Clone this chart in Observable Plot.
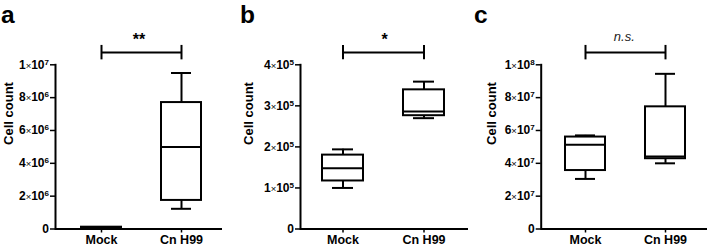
<!DOCTYPE html>
<html><head><meta charset="utf-8">
<script src="https://cdn.jsdelivr.net/npm/d3@7"></script>
<script src="https://cdn.jsdelivr.net/npm/@observablehq/plot@0.6"></script>
<style>
body{margin:0;background:#fff;}
#wrap{position:relative;width:709px;height:247px;overflow:hidden;font-family:"Liberation Sans",Arial,sans-serif;}
#wrap svg{position:absolute;top:0;}
</style></head><body><div id="wrap"></div>
<script>
const groups = ["Mock", "Cn H99"];
// five-number summaries: [min, q1, median, q3, max]
const mockA = [0.08e6, 0.09e6, 0.10e6, 0.11e6, 0.12e6];
const h99A  = [1.23e6, 1.74e6, 5.0e6, 7.7e6, 9.5e6];
const mockB = [1.0e5, 1.17e5, 1.48e5, 1.8e5, 1.94e5];
const h99B  = [2.7e5, 2.76e5, 2.86e5, 3.39e5, 3.59e5];
const mockC = [3.05e7, 3.56e7, 5.13e7, 5.6e7, 5.7e7];
const h99C  = [4.0e7, 4.28e7, 4.42e7, 7.44e7, 9.45e7];
const yTicksA = [0, 2e6, 4e6, 6e6, 8e6, 1e7];
const yTicksB = [0, 1e5, 2e5, 3e5, 4e5];
const yTicksC = [0, 2e7, 4e7, 6e7, 8e7, 1e8];
const panelLetters = ["a", "b", "c"];
const sigLabels = ["**", "*", "n.s."];
const yLabel = "Cell count";

const FONT = '"Liberation Sans", Arial, Helvetica, sans-serif';

function fmt(v) {
  if (v === 0) return "0";
  const e = Math.floor(Math.log10(v) + 1e-9);
  const m = Math.round(v / Math.pow(10, e));
  return m + "×10^" + e;
}

function panel(cfg) {
  const rows = groups.map((g, i) => {
    const s = i ? cfg.h99 : cfg.mock;
    return {g, min: s[0], q1: s[1], med: s[2], q3: s[3], max: s[4]};
  });
  const top = cfg.ticks[cfg.ticks.length - 1];
  const italic = cfg.sig === "n.s.";
  const svg = Plot.plot({
    width: cfg.width, height: 247,
    marginTop: 64.3, marginBottom: 18.5, marginLeft: cfg.mL, marginRight: cfg.mR,
    style: {fontFamily: FONT, fontWeight: "bold", color: "#000", background: "transparent", overflow: "visible"},
    x: {type: "band", domain: groups, paddingInner: 0.5, paddingOuter: 0.26, insetLeft: cfg.inL, insetRight: cfg.inR, label: null},
    y: {type: "linear", domain: [0, top], label: null},
    marks: [
      Plot.frame({anchor: "left", strokeWidth: 2}),
      Plot.ruleY([0], {strokeWidth: 2}),
      Plot.axisX({tickSize: 4, tickPadding: 2, fontSize: 12.5, fontWeight: "bold", strokeWidth: 1.5, label: null}),
      Plot.axisY({ticks: cfg.ticks, tickFormat: fmt, tickSize: 5, tickPadding: 1.5, fontSize: 12, fontWeight: "bold", strokeWidth: 1.5, label: null}),
      Plot.text([yLabel], {text: d => d, frameAnchor: "left", rotate: -90, dx: -cfg.labelDx, dy: -2, fontSize: 13, fontWeight: "bold"}),
      Plot.ruleX(rows, {x: "g", y1: "min", y2: "q1", strokeWidth: 2}),
      Plot.ruleX(rows, {x: "g", y1: "q3", y2: "max", strokeWidth: 2}),
      Plot.tickY(rows, {x: "g", y: "min", inset: 10, strokeWidth: 2}),
      Plot.tickY(rows, {x: "g", y: "max", inset: 10, strokeWidth: 2}),
      Plot.barY(rows, {x: "g", y1: "q1", y2: "q3", fill: "white", stroke: "black", strokeWidth: 2}),
      Plot.tickY(rows, {x: "g", y: "med", strokeWidth: 2}),
      Plot.link([0], {x1: () => groups[0], x2: () => groups[1], y1: () => top * 1.075, y2: () => top * 1.075, strokeWidth: 2}),
      Plot.ruleX(groups, {x: d => d, y1: () => top * 1.03, y2: () => top * 1.118, strokeWidth: 2}),
      Plot.text([cfg.sig], {
        text: d => d, y: () => top * (italic ? 1.168 : 1.15),
        fontSize: italic ? 13 : 16, fontStyle: italic ? "italic" : "normal",
        fontWeight: italic ? "normal" : "bold", fill: italic ? "#222" : "#000"
      })
    ]
  });
  svg.style.left = cfg.left + "px";
  // rebuild "m×10^e" tick labels with a small × and a superscript exponent
  svg.querySelectorAll('g[aria-label="y-axis tick label"] text').forEach(t => {
    const s = t.textContent;
    t.setAttribute("font-weight", "bold");
    t.setAttribute("font-size", "12");
    t.setAttribute("fill", "#000");
    const mt = s.match(/^(\d+)×10\^(\d+)$/);
    if (!mt) return;
    t.textContent = "";
    const ns = "http://www.w3.org/2000/svg";
    const add = (txt, attrs) => {
      const sp = document.createElementNS(ns, "tspan");
      sp.textContent = txt;
      for (const k in attrs) sp.setAttribute(k, attrs[k]);
      t.appendChild(sp);
      return sp;
    };
    add(mt[1], {"font-weight": "bold"});
    add("×", {"font-weight": "normal", "font-size": "9.5"});
    add("10", {"font-weight": "bold"});
    add(mt[2], {"font-weight": "bold", "font-size": "8", dy: "-4"});
  });
  return svg;
}

const wrap = document.getElementById("wrap");
const cfgs = [
  {left: 0, width: 236, mL: 55, mR: 14, inL: 4, inR: 0, mock: mockA, h99: h99A, ticks: yTicksA, sig: sigLabels[0], labelDx: 47},
  {left: 236, width: 236, mL: 64, mR: 4, inL: 0, inR: 3.5, mock: mockB, h99: h99B, ticks: yTicksB, sig: sigLabels[1], labelDx: 52},
  {left: 472, width: 237, mL: 68.7, mR: 2, inL: 3, inR: 0, mock: mockC, h99: h99C, ticks: yTicksC, sig: sigLabels[2], labelDx: 49}
];
cfgs.forEach(c => wrap.appendChild(panel(c)));

// panel letters
const letterX = [1, 240, 474];
const ov = d3.create("svg").attr("width", 709).attr("height", 40)
  .style("left", "0px").style("top", "0px").style("overflow", "visible");
ov.selectAll("text").data(panelLetters).join("text")
  .attr("x", (d, i) => letterX[i]).attr("y", 22.5)
  .attr("font-family", FONT).attr("font-weight", "bold").attr("font-size", 24.5)
  .text(d => d);
wrap.appendChild(ov.node());
</script>
</body></html>
